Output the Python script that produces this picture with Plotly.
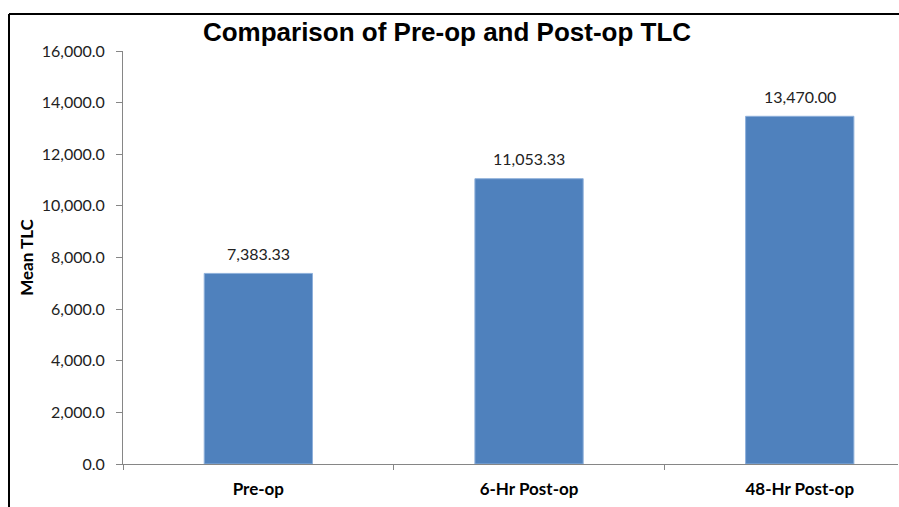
import plotly.graph_objects as go

categories = ["Pre-op", "6-Hr Post-op", "48-Hr Post-op"]
mean_tlc = [7383.33, 11053.33, 13470.00]
y_ticks = [0, 2000, 4000, 6000, 8000, 10000, 12000, 14000, 16000]
y_tick_labels = [f"{v:,.1f}" for v in y_ticks]

W, H = 899, 507
L, R, T, B = 123, 1, 51, 43
pw = W - L - R
ph = H - T - B

def px_x(x):
    return (x - L) / pw

def px_y(y):
    return (H - B - y) / ph

fig = go.Figure()
fig.add_trace(go.Bar(
    x=categories, y=mean_tlc, width=0.4,
    marker=dict(color="#4F81BD", line=dict(color="#8EB0DB", width=1)),
    hoverinfo="x+y",
))
for c, v in zip(categories, mean_tlc):
    fig.add_annotation(x=c, y=v, text=f"{v:,.2f}", showarrow=False,
                       yshift=20, font=dict(family="Lato", size=16, color="#222222"))

fig.update_layout(
    width=W, height=H,
    margin=dict(l=L, r=R, t=T, b=B),
    paper_bgcolor="white", plot_bgcolor="white",
    showlegend=False,
    title=dict(text="<b>Comparison of Pre-op and Post-op TLC</b>",
               x=447 / W, xanchor="center", y=1 - 32 / H, yanchor="middle",
               font=dict(family="Liberation Sans", size=26, color="black")),
    shapes=[
        dict(type="line", xref="paper", yref="paper", x0=px_x(9), x1=px_x(899), y0=px_y(14), y1=px_y(14),
             line=dict(color="black", width=2)),
        dict(type="line", xref="paper", yref="paper", x0=px_x(9), x1=px_x(9), y0=px_y(14), y1=px_y(508),
             line=dict(color="black", width=2)),
    ],
)
fig.update_xaxes(
    range=[-0.5, 2.363], type="category", tickson="boundaries",
    ticks="outside", ticklen=5, tickcolor="#868686",
    showline=True, linecolor="#868686", linewidth=1, showgrid=False,
    tickfont=dict(family="Lato", size=17, color="black"), ticklabelstandoff=10,
    tickprefix="<b>", ticksuffix="</b>", fixedrange=True,
)
fig.update_yaxes(
    range=[0, 16000], tickvals=y_ticks, ticktext=y_tick_labels,
    ticks="outside", ticklen=6, tickcolor="#868686",
    showline=True, linecolor="#868686", linewidth=1, showgrid=False, zeroline=False,
    tickfont=dict(family="Lato", size=16, color="#222222"), ticklabelstandoff=8,
    title=dict(text="<b>Mean TLC</b>", font=dict(family="Lato", size=17, color="black"), standoff=3),
)
fig.write_html("out.html", config={"displayModeBar": False},
               post_script="document.body.style.margin='0';document.body.style.padding='0';")
